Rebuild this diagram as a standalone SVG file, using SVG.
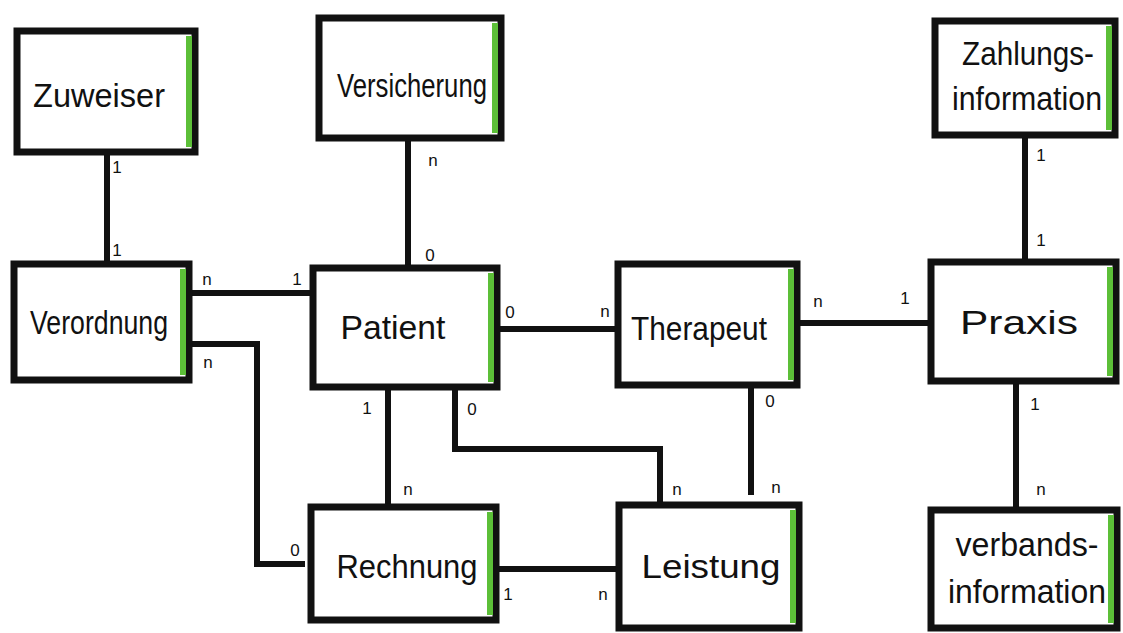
<svg xmlns="http://www.w3.org/2000/svg" width="1123" height="633" viewBox="0 0 1123 633">
  <style>
    .box { fill: #ffffff; stroke: #111111; stroke-width: 7; stroke-linejoin: miter; }
    .stripe { stroke: #5cbf38; stroke-width: 6; stroke-linecap: butt; }
    .link { fill: none; stroke: #111111; stroke-width: 6; stroke-linecap: butt; stroke-linejoin: miter; }
    .name { font-family: "Liberation Sans", "DejaVu Sans", sans-serif; font-size: 33px; fill: #111111; text-anchor: middle; }
    .card { font-family: "Liberation Sans", "DejaVu Sans", sans-serif; font-size: 17px; fill: #111111; text-anchor: middle; }
  </style>
  <rect width="1123" height="633" fill="#ffffff"/>

  <!-- relationships -->
  <g id="connectors">
    <path class="link" d="M107 152 V264"/>
    <path class="link" d="M408 138 V268"/>
    <path class="link" d="M189 293 H313"/>
    <path class="link" d="M189 344 H257 V564 H305"/>
    <path class="link" d="M497 329 H618"/>
    <path class="link" d="M797 323 H931"/>
    <path class="link" d="M1025 135 V262"/>
    <path class="link" d="M388 387 V507"/>
    <path class="link" d="M455 387 V449 H660 V505"/>
    <path class="link" d="M751 385 V495"/>
    <path class="link" d="M496 569 H619"/>
    <path class="link" d="M1016 381 V510"/>

    <!-- cardinalities -->
    <text class="card" x="117" y="173">1</text>
    <text class="card" x="117" y="256">1</text>
    <text class="card" x="433" y="166">n</text>
    <text class="card" x="430" y="261">0</text>
    <text class="card" x="207" y="285">n</text>
    <text class="card" x="297" y="285">1</text>
    <text class="card" x="208" y="368">n</text>
    <text class="card" x="295" y="556">0</text>
    <text class="card" x="510" y="318">0</text>
    <text class="card" x="605" y="317">n</text>
    <text class="card" x="818" y="307">n</text>
    <text class="card" x="905" y="304">1</text>
    <text class="card" x="1041" y="161">1</text>
    <text class="card" x="1041" y="246">1</text>
    <text class="card" x="367" y="414">1</text>
    <text class="card" x="408" y="495">n</text>
    <text class="card" x="472" y="415">0</text>
    <text class="card" x="677" y="495">n</text>
    <text class="card" x="770" y="407">0</text>
    <text class="card" x="776" y="493">n</text>
    <text class="card" x="508" y="600">1</text>
    <text class="card" x="603" y="600">n</text>
    <text class="card" x="1035" y="410">1</text>
    <text class="card" x="1041" y="495">n</text>
  </g>

  <!-- entities: white box, heavy outline, green marker strip inside the right edge -->
  <g id="zuweiser">
    <rect class="box" x="17" y="31" width="178" height="121"/>
    <line class="stripe" x1="189" y1="36" x2="189" y2="147"/>
    <text class="name" x="99" y="107" textLength="132" lengthAdjust="spacingAndGlyphs">Zuweiser</text>
  </g>

  <g id="versicherung">
    <rect class="box" x="319" y="18" width="182" height="120"/>
    <line class="stripe" x1="495" y1="23" x2="495" y2="133"/>
    <text class="name" x="412" y="97" textLength="150" lengthAdjust="spacingAndGlyphs">Versicherung</text>
  </g>

  <g id="zahlungsinformation">
    <rect class="box" x="935" y="21" width="180" height="114"/>
    <line class="stripe" x1="1109" y1="26" x2="1109" y2="130"/>
    <text class="name" x="1028" y="65" textLength="132" lengthAdjust="spacingAndGlyphs">Zahlungs-</text>
    <text class="name" x="1027" y="110" textLength="150" lengthAdjust="spacingAndGlyphs">information</text>
  </g>

  <g id="verordnung">
    <rect class="box" x="14" y="264" width="175" height="116"/>
    <line class="stripe" x1="183" y1="269" x2="183" y2="375"/>
    <text class="name" x="99" y="334" textLength="138" lengthAdjust="spacingAndGlyphs">Verordnung</text>
  </g>

  <g id="patient">
    <rect class="box" x="313" y="268" width="184" height="119"/>
    <line class="stripe" x1="491" y1="273" x2="491" y2="382"/>
    <text class="name" x="393" y="339" textLength="105" lengthAdjust="spacingAndGlyphs">Patient</text>
  </g>

  <g id="therapeut">
    <rect class="box" x="618" y="264" width="179" height="121"/>
    <line class="stripe" x1="791" y1="269" x2="791" y2="380"/>
    <text class="name" x="699" y="340" textLength="136" lengthAdjust="spacingAndGlyphs">Therapeut</text>
  </g>

  <g id="praxis">
    <rect class="box" x="931" y="262" width="185" height="119"/>
    <line class="stripe" x1="1110" y1="267" x2="1110" y2="376"/>
    <text class="name" x="1019" y="334" textLength="118" lengthAdjust="spacingAndGlyphs">Praxis</text>
  </g>

  <g id="rechnung">
    <rect class="box" x="311" y="507" width="185" height="113"/>
    <line class="stripe" x1="490" y1="512" x2="490" y2="615"/>
    <text class="name" x="407" y="578" textLength="141" lengthAdjust="spacingAndGlyphs">Rechnung</text>
  </g>

  <g id="leistung">
    <rect class="box" x="619" y="505" width="180" height="123"/>
    <line class="stripe" x1="793" y1="510" x2="793" y2="623"/>
    <text class="name" x="711" y="578" textLength="139" lengthAdjust="spacingAndGlyphs">Leistung</text>
  </g>

  <g id="verbandsinformation">
    <rect class="box" x="931" y="510" width="186" height="118"/>
    <line class="stripe" x1="1111" y1="515" x2="1111" y2="623"/>
    <text class="name" x="1027" y="556" textLength="143" lengthAdjust="spacingAndGlyphs">verbands-</text>
    <text class="name" x="1027" y="603" textLength="158" lengthAdjust="spacingAndGlyphs">information</text>
  </g>
</svg>
